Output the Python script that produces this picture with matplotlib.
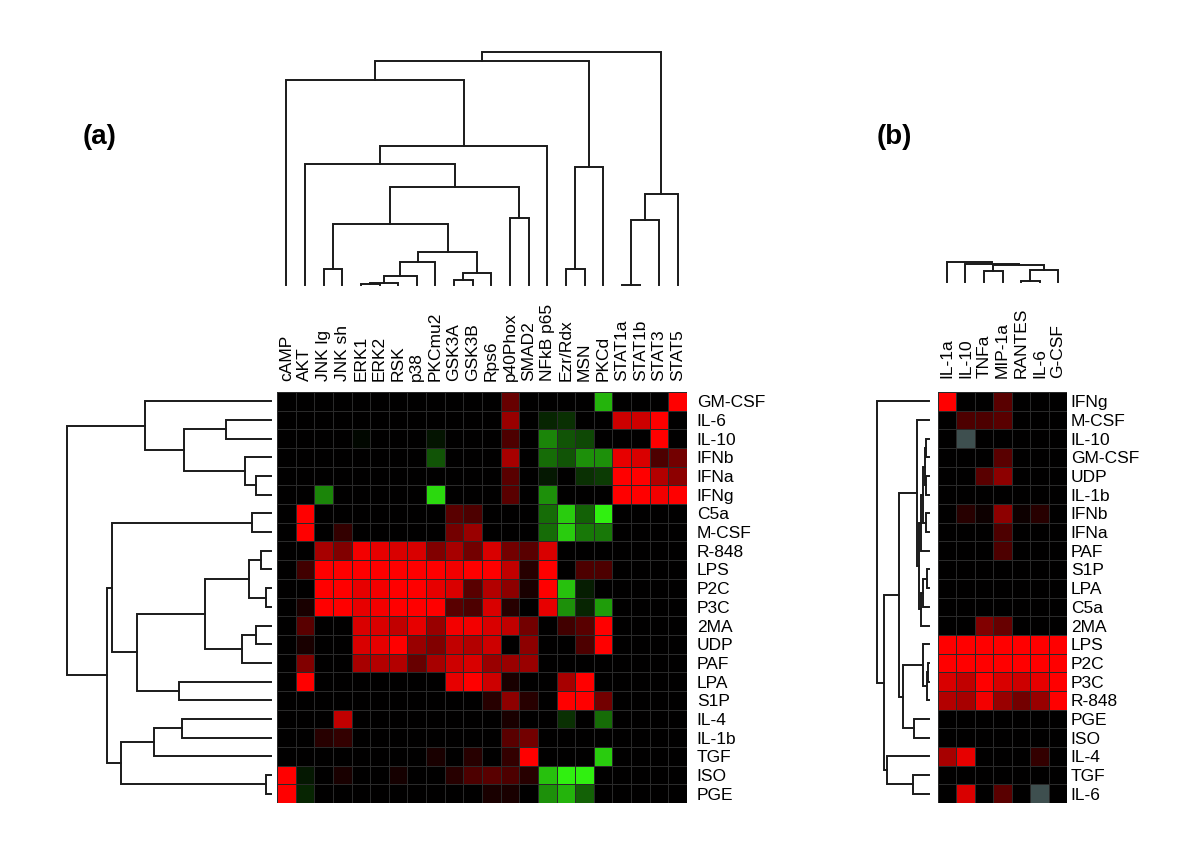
import numpy as np
import matplotlib
matplotlib.use("Agg")
import matplotlib.pyplot as plt
from matplotlib.colors import LinearSegmentedColormap

plt.rcParams['font.family'] = ['Liberation Sans', 'DejaVu Sans']

nan = np.nan

# ---------------- panel (a) ----------------
a_cols = ["cAMP", "AKT", "JNK lg", "JNK sh", "ERK1", "ERK2", "RSK", "p38",
          "PKCmu2", "GSK3A", "GSK3B", "Rps6", "p40Phox", "SMAD2", "NFkB p65",
          "Ezr/Rdx", "MSN", "PKCd", "STAT1a", "STAT1b", "STAT3", "STAT5"]
a_rows = ["GM-CSF", "IL-6", "IL-10", "IFNb", "IFNa", "IFNg", "C5a", "M-CSF",
          "R-848", "LPS", "P2C", "P3C", "2MA", "UDP", "PAF", "LPA", "S1P",
          "IL-4", "IL-1b", "TGF", "ISO", "PGE"]
a_vals = [
    [0, 0, 0, 0, 0, 0, 0, 0, 0, 0, 0, 0, .40, 0, 0, 0, 0, -.75, 0, 0, 0, 1],
    [0, 0, 0, 0, 0, 0, 0, 0, 0, 0, 0, 0, .60, 0, -.15, -.2, 0, 0, .8, .8, 1, 0],
    [0, 0, 0, 0, -.03, 0, 0, 0, -.08, 0, 0, 0, .30, 0, -.55, -.35, -.3, 0, 0, 0, 1, 0],
    [0, 0, 0, 0, 0, 0, 0, 0, -.35, 0, 0, 0, .65, 0, -.45, -.35, -.6, -.6, .9, .85, .3, .45],
    [0, 0, 0, 0, 0, 0, 0, 0, 0, 0, 0, 0, .35, 0, -.1, 0, -.2, -.25, 1, 1, .7, .55],
    [0, 0, -.55, 0, 0, 0, 0, 0, -.9, 0, 0, 0, .35, 0, -.6, 0, 0, 0, 1, 1, .95, 1],
    [0, 1, 0, 0, 0, 0, 0, 0, 0, .35, .3, 0, 0, 0, -.45, -.85, -.4, -1, 0, 0, 0, 0],
    [0, 1, 0, .2, 0, 0, 0, 0, 0, .45, .6, 0, 0, 0, -.45, -.85, -.5, -.5, 0, 0, 0, 0],
    [0, 0, .65, .5, .95, .9, .85, .85, .5, .65, .45, .85, .45, .35, .85, 0, 0, 0, 0, 0, 0, 0],
    [0, .25, 1, 1, 1, 1, 1, 1, 1, .95, 1, 1, .75, .15, 1, 0, .3, .3, 0, 0, 0, 0],
    [0, 0, 1, 1, .9, .95, 1, 1, .9, .85, .35, .7, .55, .1, 1, -.8, -.12, 0, 0, 0, 0, 0],
    [0, .1, 1, 1, .9, .95, 1, 1, 1, .35, .3, .85, .15, 0, .9, -.6, -.15, -.65, 0, 0, 0, 0],
    [0, .35, 0, 0, .85, .85, .75, .9, .6, .95, .95, .85, .75, .45, 0, .25, .35, 1, 0, 0, 0, 0],
    [0, .1, 0, 0, .85, .9, 1, .6, .5, .75, .7, .8, 0, .55, 0, 0, .3, 1, 0, 0, 0, 0],
    [0, .5, 0, 0, .65, .7, .7, .4, .65, .8, .85, .6, .6, .6, 0, 0, 0, 0, 0, 0, 0, 0],
    [0, 1, 0, 0, 0, 0, 0, 0, 0, .9, 1, .8, .1, 0, 0, .65, 1, 0, 0, 0, 0, 0],
    [0, 0, 0, 0, 0, 0, 0, 0, 0, 0, 0, .15, .55, .15, 0, 1, 1, .45, 0, 0, 0, 0],
    [0, 0, 0, .75, 0, 0, 0, 0, 0, 0, 0, 0, .1, 0, 0, -.2, 0, -.45, 0, 0, 0, 0],
    [0, 0, .15, .2, 0, 0, 0, 0, 0, 0, 0, 0, .35, .45, 0, 0, 0, 0, 0, 0, 0, 0],
    [0, 0, 0, 0, 0, 0, 0, 0, .1, 0, .15, 0, .2, 1, 0, 0, 0, -.85, 0, 0, 0, 0],
    [1, -.1, 0, .1, 0, 0, .08, 0, 0, .15, .3, .35, .3, .15, -.8, -1, -1, 0, 0, 0, 0, 0],
    [1, -.15, 0, 0, 0, 0, 0, 0, 0, 0, 0, .1, .1, 0, -.6, -.75, -.4, 0, 0, 0, 0, 0],
]
# merges: (left, right, height); str = leaf, int = earlier merge
a_col_tree = [
    ("JNK lg", "JNK sh", 49), ("ERK1", "ERK2", 2), (1, "RSK", 7), (2, "p38", 28),
    (3, "PKCmu2", 70), ("GSK3A", "GSK3B", 15), (5, "Rps6", 35), (4, 6, 98),
    (0, 7, 182), ("p40Phox", "SMAD2", 202), (8, 9, 295), ("AKT", 10, 363),
    (11, "NFkB p65", 419), ("cAMP", 12, 615), ("Ezr/Rdx", "MSN", 49),
    (14, "PKCd", 356), (13, 15, 672), ("STAT1a", "STAT1b", 1),
    (17, "STAT3", 195), (18, "STAT5", 272), (16, 19, 700),
]
a_row_tree = [
    ("IL-6", "IL-10", 135), ("IFNa", "IFNg", 44), ("IFNb", 1, 79), (0, 2, 260),
    ("GM-CSF", 3, 379), ("C5a", "M-CSF", 58), ("R-848", "LPS", 30),
    ("P2C", "P3C", 14), (6, 7, 65), ("2MA", "UDP", 44), (9, "PAF", 86),
    (8, 10, 198), ("LPA", "S1P", 275), (11, 12, 401), (5, 13, 477),
    ("IL-4", "IL-1b", 267), (15, "TGF", 350), ("ISO", "PGE", 15),
    (16, 17, 450), (14, 18, 491), (4, 19, 612),
]

# ---------------- panel (b) ----------------
b_cols = ["IL-1a", "IL-10", "TNFa", "MIP-1a", "RANTES", "IL-6", "G-CSF"]
b_rows = ["IFNg", "M-CSF", "IL-10", "GM-CSF", "UDP", "IL-1b", "IFNb", "IFNa",
          "PAF", "S1P", "LPA", "C5a", "2MA", "LPS", "P2C", "P3C", "R-848",
          "PGE", "ISO", "IL-4", "TGF", "IL-6"]
b_vals = [
    [1, 0, 0, .35, 0, 0, 0],
    [0, .3, .3, .35, 0, 0, 0],
    [0, nan, 0, 0, 0, 0, 0],
    [0, 0, 0, .35, 0, 0, 0],
    [0, 0, .35, .55, 0, 0, 0],
    [0, 0, 0, 0, 0, 0, 0],
    [0, .15, .05, .55, .05, .15, 0],
    [0, 0, 0, .3, 0, 0, 0],
    [0, 0, 0, .3, 0, 0, 0],
    [0, 0, 0, 0, 0, 0, 0],
    [0, 0, 0, 0, 0, 0, 0],
    [0, 0, 0, 0, 0, 0, 0],
    [0, 0, .5, .4, 0, 0, 0],
    [1, 1, 1, 1, 1, 1, 1],
    [1, 1, 1, 1, 1, 1, 1],
    [.85, .75, 1, .85, .8, .9, 1],
    [.7, .65, .95, .6, .45, .6, 1],
    [0, 0, 0, 0, 0, 0, 0],
    [0, 0, 0, 0, 0, 0, 0],
    [.65, .9, 0, 0, 0, .2, 0],
    [0, 0, 0, 0, 0, 0, 0],
    [0, .85, 0, .35, 0, nan, 0],
]
b_col_tree = [
    ("TNFa", "MIP-1a", 33), ("RANTES", "IL-6", 3), (1, "G-CSF", 37),
    (0, 2, 50), ("IL-10", 3, 54), ("IL-1a", 4, 60),
]
b_row_tree = [
    ("IL-10", "GM-CSF", 9), ("UDP", "IL-1b", 9), ("IFNb", "IFNa", 9),
    (0, 1, 12), (3, 2, 17), (4, "PAF", 25), ("S1P", "LPA", 7),
    (6, "C5a", 17), (7, "2MA", 24), (5, 8, 29), ("M-CSF", 9, 35),
    ("P2C", "P3C", 2), (11, "R-848", 7), ("LPS", 12, 17), ("PGE", "ISO", 45),
    (13, 14, 77), (10, 15, 92), ("TGF", "IL-6", 47), ("IL-4", 17, 127),
    (16, 18, 135), ("IFNg", 19, 157),
]

cmap = LinearSegmentedColormap.from_list("gkr", ["#30f010", "#000000", "#ff0000"])
cmap.set_bad("#3e4f4f")

W, H = 1200, 852
fig = plt.figure(figsize=(12, 8.52), dpi=100)


def box(x0, y0, x1, y1):
    # pixel box (top-left origin) -> figure fraction rect
    return [x0 / W, 1 - y1 / H, (x1 - x0) / W, (y1 - y0) / H]


def heatmap(rect, vals, cols, rows, xpad, ypad):
    ax = fig.add_axes(rect)
    data = np.ma.masked_invalid(np.array(vals, dtype=float))
    ax.pcolormesh(data, cmap=cmap, vmin=-1, vmax=1,
                  edgecolors="#2a2a2a", linewidth=0.4)
    ax.set_xlim(0, len(cols))
    ax.set_ylim(len(rows), 0)
    ax.xaxis.tick_top()
    ax.yaxis.tick_right()
    ax.set_xticks(np.arange(len(cols)) + 0.5)
    ax.set_xticklabels(cols, rotation=90, fontsize=12.5)
    ax.set_yticks(np.arange(len(rows)) + 0.5)
    ax.set_yticklabels(rows, fontsize=12.5)
    ax.tick_params(axis="x", length=0, pad=xpad)
    ax.tick_params(axis="y", length=0, pad=ypad)
    for s in ax.spines.values():
        s.set_visible(False)
    return ax


def dendro(rect, leaves, tree, side):
    ax = fig.add_axes(rect)
    pos = {name: i + 0.5 for i, name in enumerate(leaves)}
    nx, nh = [], []

    def get(k):
        if isinstance(k, str):
            return pos[k], 0.0
        return nx[k], nh[k]

    for a, b, h in tree:
        xa, ha = get(a)
        xb, hb = get(b)
        xs = [xa, xa, xb, xb]
        hs = [ha, h, h, hb]
        if side == "top":
            ax.plot(xs, hs, color="#1a1a1a", lw=1.4, clip_on=False,
                    solid_joinstyle="miter")
        else:
            ax.plot(hs, xs, color="#1a1a1a", lw=1.4, clip_on=False,
                    solid_joinstyle="miter")
        nx.append((xa + xb) / 2)
        nh.append(h)
    top = max(nh)
    if side == "top":
        ax.set_xlim(0, len(leaves))
        ax.set_ylim(0, top)
    else:
        ax.set_ylim(len(leaves), 0)
        ax.set_xlim(top, 0)
    ax.axis("off")
    return ax


# panel (a)
heatmap(box(277, 392, 687, 803), a_vals, a_cols, a_rows, 8, 7)
dendro(box(277, 52, 687, 285), a_cols, a_col_tree, "top")
dendro(box(67, 392, 271, 803), a_rows, a_row_tree, "left")

# panel (b)
heatmap(box(937.7, 392, 1067.3, 803), b_vals, b_cols, b_rows, 10, 2.5)
dendro(box(937.7, 262, 1067.3, 282), b_cols, b_col_tree, "top")
dendro(box(877, 392, 929, 803), b_rows, b_row_tree, "left")

fig.text(83 / W, 1 - 137 / H, "(a)", fontsize=20, fontweight="bold",
         ha="left", va="center")
fig.text(877 / W, 1 - 137 / H, "(b)", fontsize=20, fontweight="bold",
         ha="left", va="center")

fig.savefig("out.png", dpi=100)
